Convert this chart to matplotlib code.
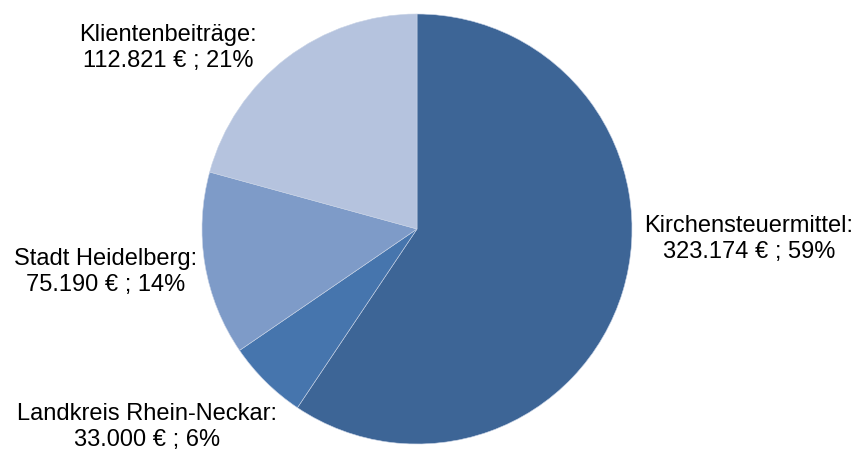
import matplotlib.pyplot as plt

plt.rcParams["font.family"] = ["Liberation Sans", "DejaVu Sans"]

categories = ["Kirchensteuermittel", "Landkreis Rhein-Neckar", "Stadt Heidelberg", "Klientenbeiträge"]
values = [323174, 33000, 75190, 112821]
colors = ["#3D6596", "#4675AD", "#7E9BC8", "#B5C3DE"]
# label centres in figure pixels (x, y from top)
label_px = [(749, 239), (147, 427), (106, 272), (168, 48)]

W, H = 867, 453
cx, cy, r = 417, 229, 215

fig = plt.figure(figsize=(W / 100, H / 100), dpi=100)
ax = fig.add_axes([(cx - r) / W, (H - cy - r) / H, 2 * r / W, 2 * r / H])
ax.pie(values, colors=colors, startangle=90, counterclock=False, radius=1,
       wedgeprops=dict(linewidth=0.4, edgecolor="#C8D3E6"))
ax.set_xlim(-1, 1)
ax.set_ylim(-1, 1)
ax.set_aspect("equal")
ax.axis("off")

total = sum(values)
for name, v, (px, py) in zip(categories, values, label_px):
    amount = f"{v:,}".replace(",", ".")
    pct = round(100 * v / total)
    fig.text(px / W, 1 - py / H, f"{name}:\n{amount} € ; {pct}%",
             ha="center", va="center", fontsize=17, linespacing=1.26, color="#000000")

fig.savefig("out.png", dpi=100)
